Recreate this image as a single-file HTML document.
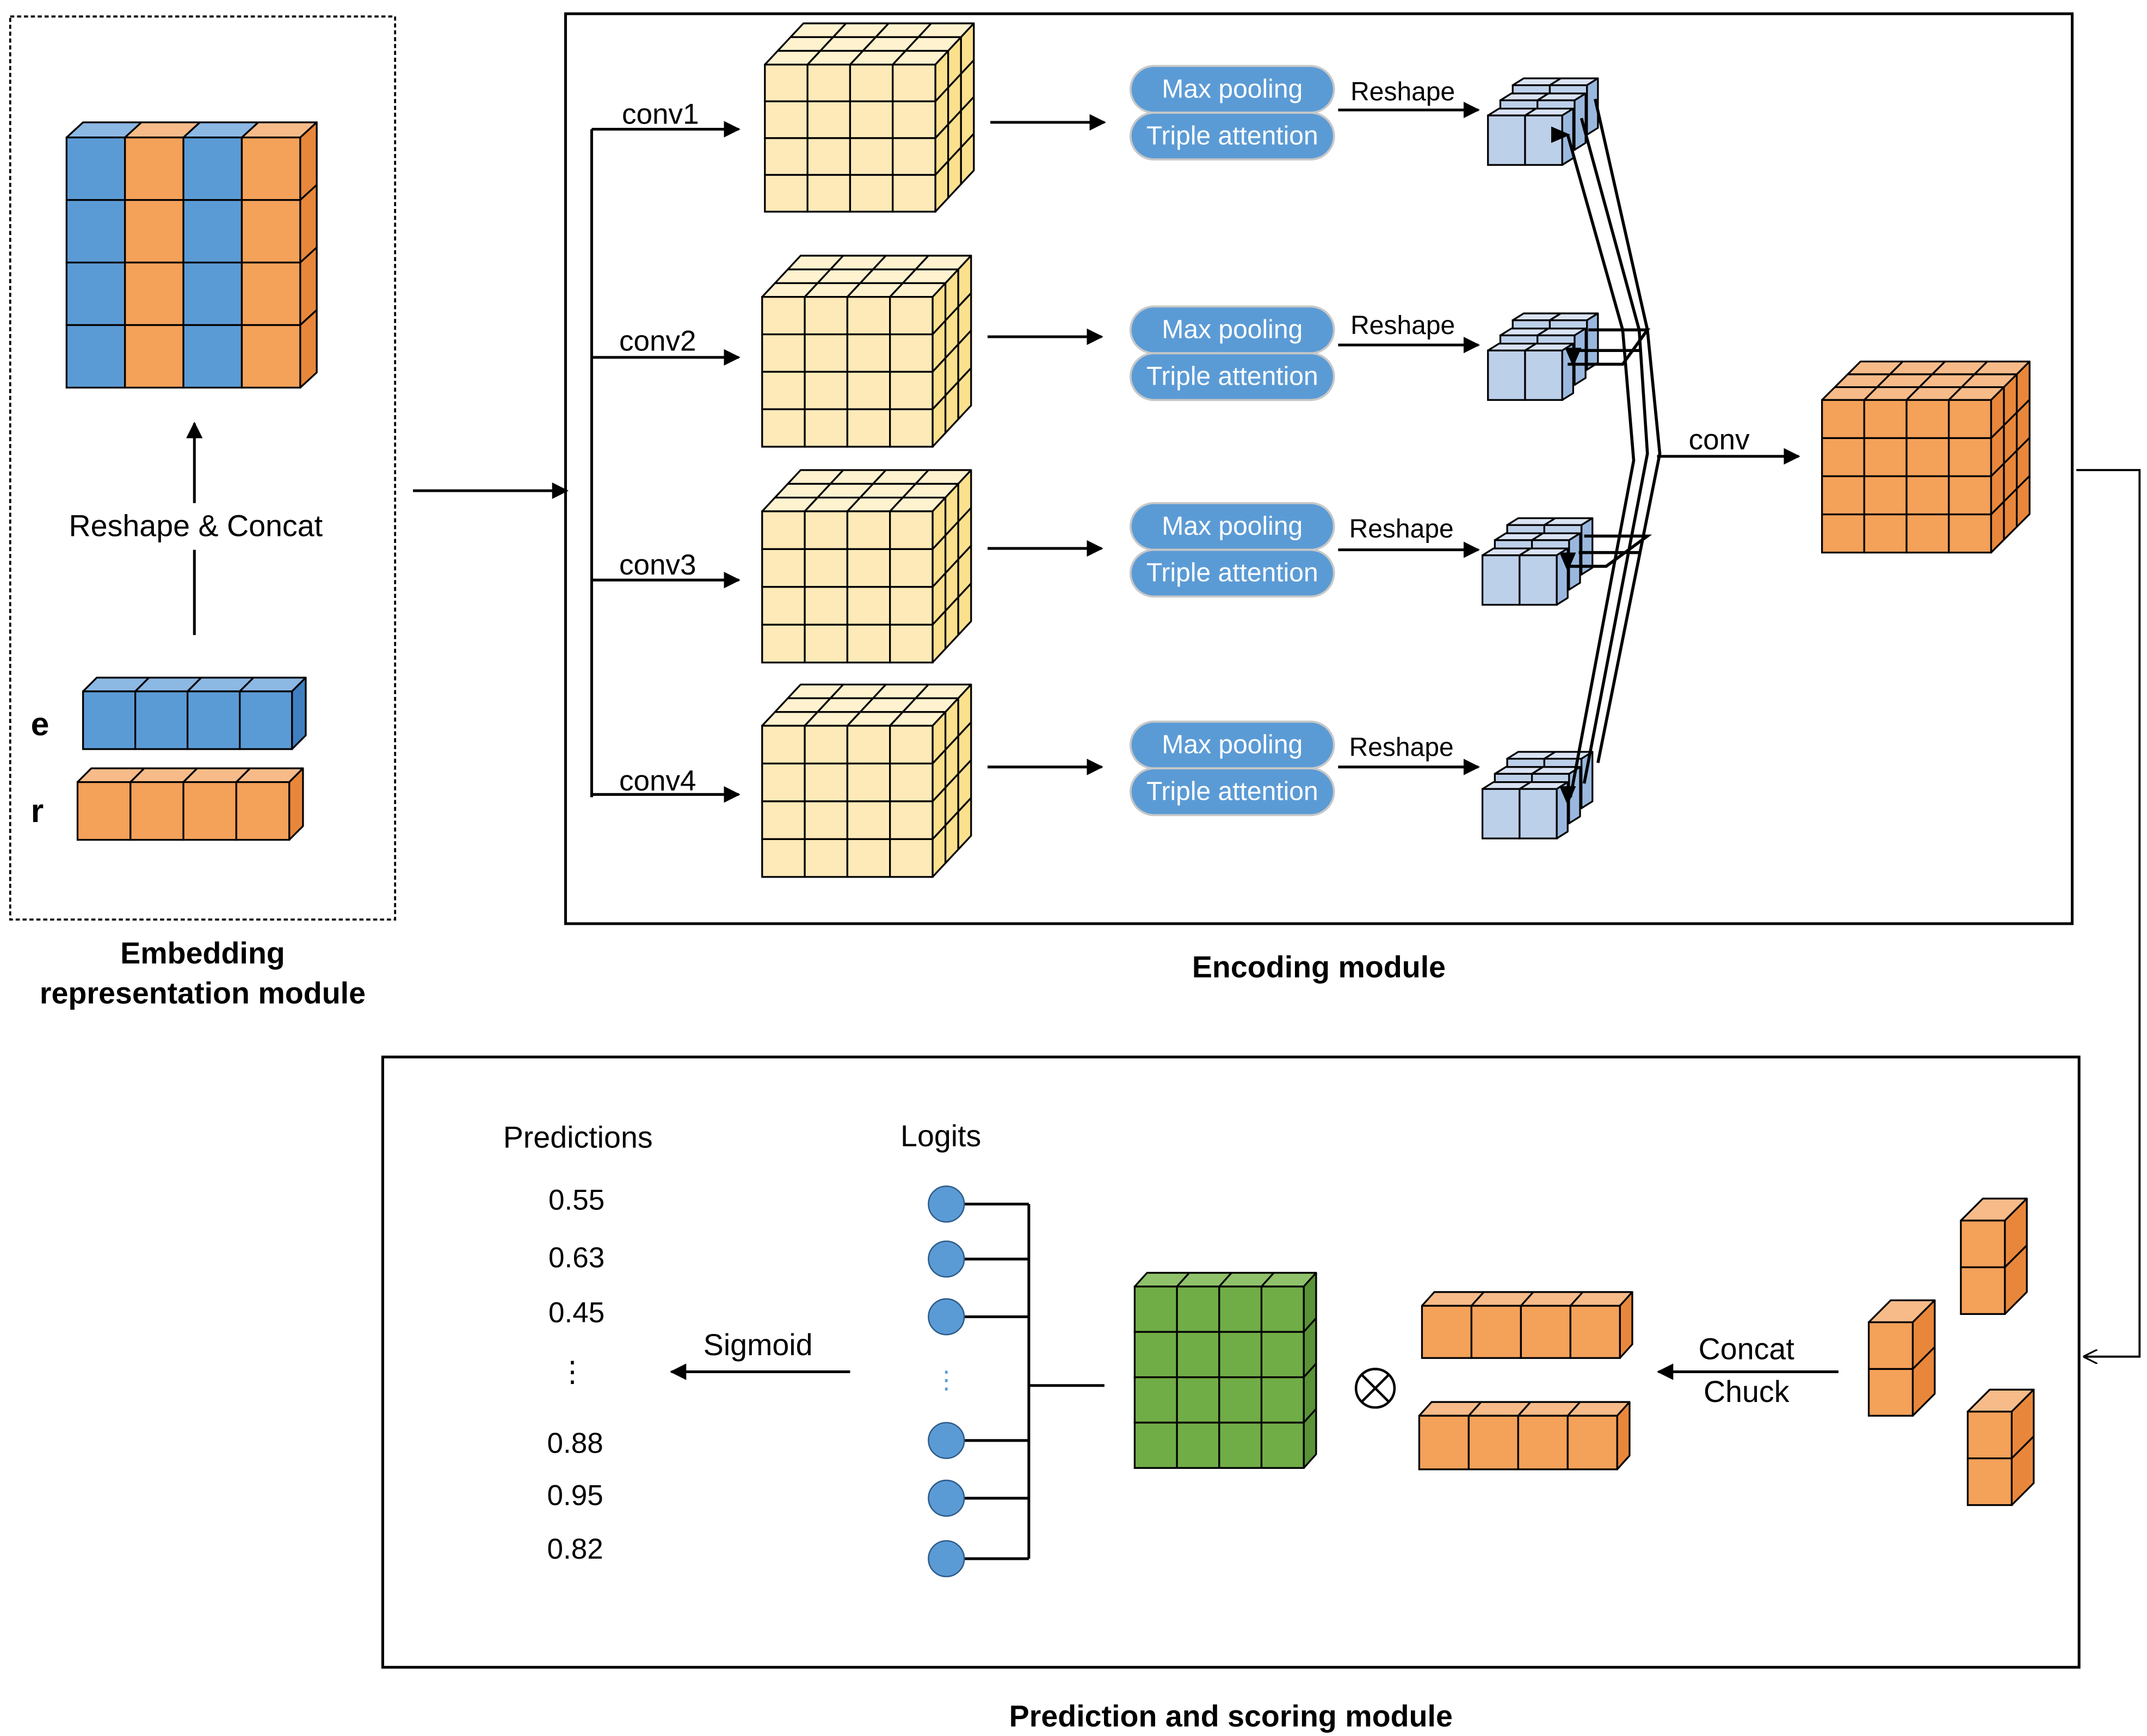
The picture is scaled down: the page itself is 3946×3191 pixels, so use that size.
<!DOCTYPE html>
<html><head><meta charset="utf-8"><style>
html,body{margin:0;padding:0;background:#fff}
svg{display:block}
text{font-family:"Liberation Sans",Arial,sans-serif}
</style></head><body>
<svg id="s" width="3946" height="3191" viewBox="0 0 1561 1263" xmlns="http://www.w3.org/2000/svg">
<defs>
<marker id="ah" viewBox="0 0 10 10" refX="9" refY="5" markerWidth="6" markerHeight="6" orient="auto"><path d="M0,0 L10,5 L0,10 z" fill="#000"/></marker>
<marker id="ao" viewBox="0 0 10 10" refX="9" refY="5" markerWidth="7" markerHeight="7" orient="auto"><path d="M0,0 L10,5 L0,10" fill="none" stroke="#000" stroke-width="1.2"/></marker>
</defs>
<g id="cubes"></g>
<!-- boxes -->
<rect x="7" y="12" width="280" height="657" fill="none" stroke="#000" stroke-width="1.5" stroke-dasharray="3,2"/>
<rect x="411" y="10" width="1096" height="662" fill="none" stroke="#000" stroke-width="2"/>
<rect x="278" y="769" width="1234" height="444" fill="none" stroke="#000" stroke-width="2"/>

<!-- embedding -->
<line x1="141" y1="462" x2="141" y2="400" stroke="#000" stroke-width="2"/>
<line x1="141" y1="366" x2="141" y2="308" stroke="#000" stroke-width="2" marker-end="url(#ah)"/>
<text x="142" y="390" font-size="22" text-anchor="middle">Reshape &amp; Concat</text>
<text x="22" y="535" font-size="24" font-weight="bold">e</text>
<text x="22" y="598" font-size="24" font-weight="bold">r</text>
<text x="147" y="701" font-size="22" font-weight="bold" text-anchor="middle">Embedding</text>
<text x="147" y="730" font-size="22" font-weight="bold" text-anchor="middle">representation module</text>
<line x1="300" y1="357" x2="412" y2="357" stroke="#000" stroke-width="2" marker-end="url(#ah)"/>

<!-- encoding branches -->
<line x1="430" y1="94" x2="430" y2="580" stroke="#000" stroke-width="2"/>
<g stroke="#000" stroke-width="2" marker-end="url(#ah)">
<line x1="430" y1="94" x2="537" y2="94"/>
<line x1="430" y1="260" x2="537" y2="260"/>
<line x1="430" y1="422" x2="537" y2="422"/>
<line x1="430" y1="578" x2="537" y2="578"/>
<line x1="720" y1="89" x2="803" y2="89"/>
<line x1="718" y1="245" x2="801" y2="245"/>
<line x1="718" y1="399" x2="801" y2="399"/>
<line x1="718" y1="558" x2="801" y2="558"/>
<line x1="973" y1="80" x2="1075" y2="80"/>
<line x1="973" y1="251" x2="1075" y2="251"/>
<line x1="973" y1="400" x2="1075" y2="400"/>
<line x1="973" y1="558" x2="1075" y2="558"/>
<line x1="1205" y1="332" x2="1308" y2="332"/>
</g>
<g font-size="21">
<text x="452" y="90">conv1</text>
<text x="450" y="255">conv2</text>
<text x="450" y="418">conv3</text>
<text x="450" y="575">conv4</text>
<text x="1228" y="327">conv</text>
</g>
<g font-size="19">
<text x="982" y="73">Reshape</text>
<text x="982" y="243">Reshape</text>
<text x="981" y="391">Reshape</text>
<text x="981" y="550">Reshape</text>
</g>
<g id="pills"></g>
<text x="959" y="711" font-size="22" font-weight="bold" text-anchor="middle">Encoding module</text>

<!-- converging lines -->
<g stroke="#000" stroke-width="2.2" fill="none">
<polyline points="1140,98 1180,240 1188,335 1142,580"/>
<polyline points="1150,86 1192,240 1198,330 1152,570"/>
<polyline points="1160,72 1198,240 1207,330 1162,555"/>
<polyline points="1140,265 1180,265 1198,240 1155,240"/>
<polyline points="1148,255 1192,255"/>
<polyline points="1140,412 1168,412 1198,390 1152,390"/>
<polyline points="1148,402 1192,402"/>
</g>
<g fill="#000">
<path d="M1128,92 l14,6 l-14,6z"/>
<path d="M1138,253 l12,0 l-6,14z"/>
<path d="M1134,402 l12,0 l-6,14z"/>
<path d="M1134,572 l12,0 l-6,14z"/>
</g>

<!-- feedback line -->
<polyline points="1510,342 1556,342 1556,987 1516,987" fill="none" stroke="#000" stroke-width="1.5" marker-end="url(#ao)"/>

<!-- prediction -->
<line x1="1337" y1="998" x2="1206" y2="998" stroke="#000" stroke-width="2" marker-end="url(#ah)"/>
<text x="1270" y="989" font-size="22" text-anchor="middle">Concat</text>
<text x="1270" y="1020" font-size="22" text-anchor="middle">Chuck</text>
<circle cx="1000" cy="1010" r="14" fill="none" stroke="#000" stroke-width="1.8"/>
<line x1="990" y1="1000" x2="1010" y2="1020" stroke="#000" stroke-width="1.8"/>
<line x1="1010" y1="1000" x2="990" y2="1020" stroke="#000" stroke-width="1.8"/>
<g stroke="#000" stroke-width="2">
<line x1="748" y1="876" x2="748" y2="1134"/>
<line x1="748" y1="1008" x2="803" y2="1008"/>
<line x1="688" y1="876" x2="748" y2="876"/>
<line x1="688" y1="916" x2="748" y2="916"/>
<line x1="688" y1="958" x2="748" y2="958"/>
<line x1="688" y1="1048" x2="748" y2="1048"/>
<line x1="688" y1="1090" x2="748" y2="1090"/>
<line x1="688" y1="1134" x2="748" y2="1134"/>
</g>
<g fill="#5b9bd5" stroke="#2e5b8a" stroke-width="1">
<circle cx="688" cy="876" r="13"/><circle cx="688" cy="916" r="13"/><circle cx="688" cy="958" r="13"/>
<circle cx="688" cy="1048" r="13"/><circle cx="688" cy="1090" r="13"/><circle cx="688" cy="1134" r="13"/>
</g>
<text x="688" y="1010" font-size="18" fill="#5b9bd5" text-anchor="middle">⋮</text>
<text x="684" y="834" font-size="22" text-anchor="middle">Logits</text>
<line x1="618" y1="998" x2="488" y2="998" stroke="#000" stroke-width="2" marker-end="url(#ah)"/>
<text x="551" y="986" font-size="22" text-anchor="middle">Sigmoid</text>
<text x="420" y="835" font-size="22" text-anchor="middle">Predictions</text>
<g font-size="21" text-anchor="middle">
<text x="419" y="880">0.55</text>
<text x="419" y="922">0.63</text>
<text x="419" y="962">0.45</text>
<text x="416" y="1005">⋮</text>
<text x="418" y="1057">0.88</text>
<text x="418" y="1095">0.95</text>
<text x="418" y="1134">0.82</text>
</g>
<text x="895" y="1256" font-size="22" font-weight="bold" text-anchor="middle">Prediction and scoring module</text>
</svg>
<script>
var NS="http://www.w3.org/2000/svg",G=document.getElementById('cubes');
function el(t,a,p){var e=document.createElementNS(NS,t);for(var k in a)e.setAttribute(k,a[k]);(p||G).appendChild(e);return e;}
function poly(pts,f){el('polygon',{points:pts.map(function(p){return p[0]+','+p[1]}).join(' '),fill:f,stroke:'#000','stroke-width':1.3,'stroke-linejoin':'round'});}
function box(x,y,w,h,cols,rows,dx,dy,dn,front,top,side,colColors){
 var cw=w/cols,rh=h/rows,ddx=dx/dn,ddy=dy/dn,i,j;
 // top
 for(j=dn-1;j>=0;j--)for(i=0;i<cols;i++){
  var X=x+i*cw+j*ddx,Y=y-j*ddy;
  var c=colColors?colColors[i%colColors.length][1]:top;
  poly([[X,Y],[X+cw,Y],[X+cw+ddx,Y-ddy],[X+ddx,Y-ddy]],c);}
 // side
 for(j=0;j<dn;j++)for(i=0;i<rows;i++){
  var X=x+w+j*ddx,Y=y+i*rh-j*ddy;
  poly([[X,Y],[X+ddx,Y-ddy],[X+ddx,Y-ddy+rh],[X,Y+rh]],colColors?colColors[(cols-1)%colColors.length][2]:side);}
 for(i=0;i<cols;i++)for(j=0;j<rows;j++){
  var c=colColors?colColors[i%colColors.length][0]:front;
  el('rect',{x:x+i*cw,y:y+j*rh,width:cw,height:rh,fill:c,stroke:'#000','stroke-width':1.3});}
}
var Y=['#fdeab8','#fef2cf','#fbe08e'],O=['#f4a15a','#f7bb89','#e8873b'],B=['#5b9bd5','#8cb8e4','#3f7fc0'],LB=['#bdd0ea','#dae3f3','#9ab8de'],GR=['#70ad47','#8fc26b','#5a9237'];
box(48,100,170,182,4,4,12,11,1,null,null,null,[B,O]);
box(60,503,152,42,4,1,10,10,1,B[0],B[1],B[2]);
box(56,569,154,42,4,1,10,10,1,O[0],O[1],O[2]);
box(556,47,124,107,4,4,28,30,3,Y[0],Y[1],Y[2]);
box(554,216,124,109,4,4,28,30,3,Y[0],Y[1],Y[2]);
box(554,372,124,110,4,4,28,30,3,Y[0],Y[1],Y[2]);
box(554,528,124,110,4,4,28,30,3,Y[0],Y[1],Y[2]);
function stack(x,y){for(var k=2;k>=0;k--)box(x+k*9,y-k*11,54,36,2,1,8,5,1,LB[0],LB[1],LB[2]);}
stack(1082,84);stack(1082,255);stack(1078,404);stack(1078,574);
box(1325,291,123,111,4,4,28,28,3,O[0],O[1],O[2]);
box(825,936,123,132,4,4,9,10,1,GR[0],GR[1],GR[2]);
box(1034,950,144,38,4,1,9,10,1,O[0],O[1],O[2]);
box(1032,1030,144,39,4,1,9,10,1,O[0],O[1],O[2]);
box(1426,888,32,68,1,2,16,16,1,O[0],O[1],O[2]);
box(1359,962,32,68,1,2,16,16,1,O[0],O[1],O[2]);
box(1431,1027,32,68,1,2,16,16,1,O[0],O[1],O[2]);
var P=document.getElementById('pills');
[[822,48],[822,223],[822,366],[822,525]].forEach(function(p){
 [['Max pooling',0],['Triple attention',34]].forEach(function(t){
  el('rect',{x:p[0],y:p[1]+t[1],width:148,height:34,rx:17,fill:'#5b9bd5',stroke:'#c8c8c8','stroke-width':1.5},P);
  var tx=el('text',{x:p[0]+74,y:p[1]+t[1]+23,'font-size':19,fill:'#fff','text-anchor':'middle'},P);tx.textContent=t[0];
 });});
</script>
</body></html>
